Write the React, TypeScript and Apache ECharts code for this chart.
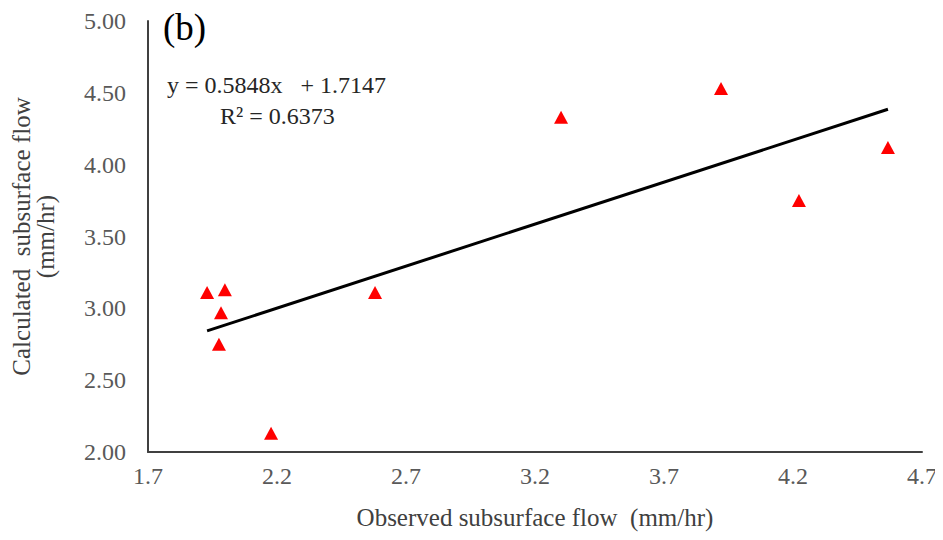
import React, { useEffect, useRef } from "react";
import * as echarts from "echarts";

const observed = [1.929, 1.998, 1.983, 1.975, 2.177, 2.58, 3.301, 3.921, 4.223, 4.568];
const calculated = [3.11, 3.13, 2.97, 2.75, 2.13, 3.11, 4.33, 4.53, 3.75, 4.12];
const slope = 0.5848;
const intercept = 1.7147;
const xTicks = [1.7, 2.2, 2.7, 3.2, 3.7, 4.2, 4.7];

export default function App() {
  const ref = useRef<HTMLDivElement>(null);
  useEffect(() => {
    if (!ref.current) return;
    const chart = echarts.init(ref.current, null, { renderer: "svg" });
    const xmin = Math.min(...observed);
    const xmax = Math.max(...observed);
    const font = "'Liberation Serif', 'Times New Roman', serif";
    chart.setOption({
      animation: false,
      backgroundColor: "#ffffff",
      grid: { left: 140, right: 21, top: 13, bottom: 80, outerBoundsMode: "none", containLabel: false },
      xAxis: {
        type: "value",
        min: 1.7,
        max: 4.7,
        interval: 0.5,
        axisLine: { show: true, lineStyle: { color: "#404040", width: 2 } },
        axisTick: { show: false },
        splitLine: { show: false },
        axisLabel: {
          color: "#595959",
          fontFamily: font,
          fontSize: 24,
          margin: 12,
          formatter: (v: number) => {
            const m = xTicks.find((t) => Math.abs(t - v) < 1e-6);
            return m !== undefined ? m.toFixed(1) : "";
          },
        },
        name: "Observed subsurface flow  (mm/hr)",
        nameLocation: "middle",
        nameGap: 53,
        nameTextStyle: { color: "#404040", fontFamily: font, fontSize: 25 },
      },
      yAxis: {
        type: "value",
        min: 2,
        max: 5,
        interval: 0.5,
        axisLine: { show: true, lineStyle: { color: "#404040", width: 2 } },
        axisTick: { show: false },
        splitLine: { show: false },
        axisLabel: {
          color: "#595959",
          fontFamily: font,
          fontSize: 24,
          margin: 22,
          formatter: (v: number) => v.toFixed(2),
        },
        name: "Calculated  subsurface flow\n(mm/hr)",
        nameLocation: "middle",
        nameGap: 91,
        nameTextStyle: { color: "#404040", fontFamily: font, fontSize: 25, lineHeight: 24 },
      },
      graphic: [
        {
          type: "text",
          left: 155,
          top: 1,
          style: { text: "(b)", font: `37px ${font}`, fill: "#000000" },
        },
        {
          type: "text",
          left: 159,
          top: 65,
          style: { text: "y = 0.5848x   + 1.7147", font: `24px ${font}`, fill: "#262626" },
        },
        {
          type: "text",
          left: 212,
          top: 96,
          style: { text: "R² = 0.6373", font: `24px ${font}`, fill: "#262626" },
        },
      ],
      series: [
        {
          type: "line",
          data: [
            [xmin, slope * xmin + intercept],
            [xmax, slope * xmax + intercept],
          ],
          showSymbol: false,
          symbol: "none",
          lineStyle: { color: "#000000", width: 3 },
          z: 1,
        },
        {
          type: "scatter",
          data: observed.map((x, i) => [x, calculated[i]]),
          symbol: "triangle",
          symbolSize: [14, 13],
          itemStyle: { color: "#ff0000", opacity: 1 },
          z: 2,
        },
      ],
    });
    return () => chart.dispose();
  }, []);
  return <div ref={ref} style={{ width: 935, height: 524 }} />;
}
